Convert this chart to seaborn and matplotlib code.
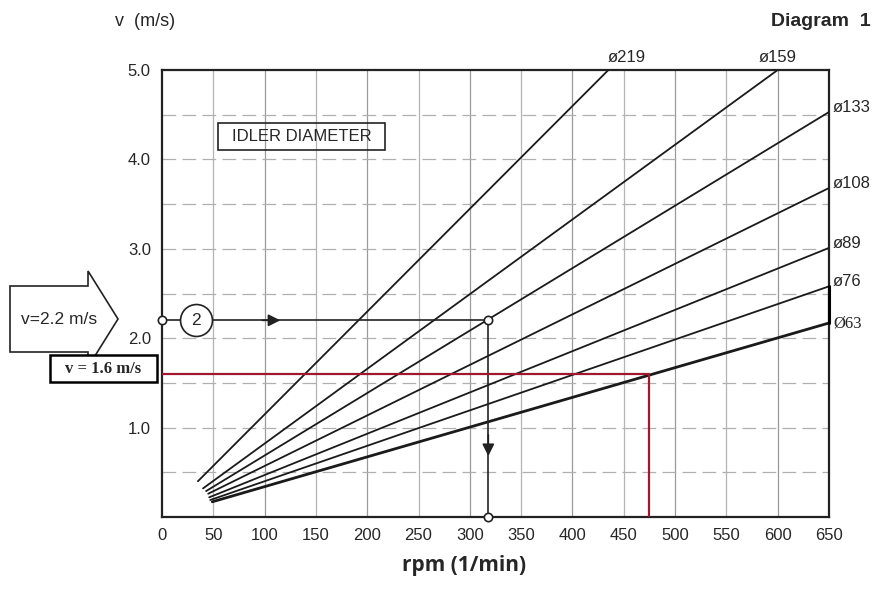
import numpy as np
import pandas as pd
import matplotlib
matplotlib.use('Agg')
import matplotlib.pyplot as plt
from matplotlib.patches import Polygon, Rectangle
import seaborn as sns

# idler diameter lines: start and end points
diameters = ['ø219', 'ø159', 'ø133', 'ø108', 'ø89', 'ø76', 'Ø63']
rpm_start = [35, 40, 43, 45, 46, 47, 49]
v_start = [0.40, 0.32, 0.29, 0.26, 0.22, 0.19, 0.17]
rpm_end = [435, 600, 650, 650, 650, 650, 650]
v_end = [5.0, 5.0, 4.53, 3.68, 3.01, 2.58, 2.17]

# worked examples
example_v = 2.2
example_rpm = 318
red_v = 1.6
red_rpm = 475

x_ticks = list(range(0, 651, 50))
y_ticks = [1.0, 2.0, 3.0, 4.0, 5.0]

rows = []
for d, x0, y0, x1, y1 in zip(diameters, rpm_start, v_start, rpm_end, v_end):
    rows.append({'d': d, 'rpm': x0, 'v': y0})
    rows.append({'d': d, 'rpm': x1, 'v': y1})
df = pd.DataFrame(rows)

sns.set_style('white')
plt.rcParams['font.family'] = ['Liberation Sans', 'DejaVu Sans']

fig = plt.figure(figsize=(8.73, 5.89), dpi=100)
ax = fig.add_axes([162 / 873, 1 - 517 / 589, 667 / 873, 447 / 589])

# grid
for x in x_ticks[1:-1]:
    ax.axvline(x, color='#b4b4b4' if x % 100 else '#9a9a9a', lw=0.9, zorder=0)
for y in np.arange(0.5, 5.0, 0.5):
    ax.axhline(y, color='#b0b0b0', lw=0.9, ls=(0, (11, 5)), zorder=0)

# idler lines
for d in diameters:
    sub = df[df['d'] == d]
    sns.lineplot(data=sub, x='rpm', y='v', color='#1a1a1a',
                 lw=2.0 if d == 'Ø63' else 1.3, ax=ax, legend=False, zorder=3)
ax.plot([650, 650], [v_end[6], v_end[5]], color='black', lw=2.2, zorder=4, clip_on=False)

# diameter labels
lab_pos = {'ø219': (434, 5.06, 'left', 'bottom'), 'ø159': (600, 5.06, 'center', 'bottom')}
for d, x1, y1 in zip(diameters, rpm_end, v_end):
    if d in lab_pos:
        lx, ly, ha, va = lab_pos[d]
        ax.text(lx, ly, d, ha=ha, va=va, fontsize=12)
    elif d == 'Ø63':
        ax.text(x1 + 4, y1, d, ha='left', va='center', fontsize=12,
                family=['Liberation Serif'])
    else:
        ax.text(x1 + 4, y1 + 0.05, d, ha='left', va='center', fontsize=12)

# example 2.2 m/s
ax.plot([0, example_rpm], [example_v, example_v], color='#222222', lw=1.2, zorder=5, clip_on=False)
ax.plot([example_rpm, example_rpm], [example_v, 0], color='#222222', lw=1.2, zorder=5, clip_on=False)
for px, py in [(0, example_v), (example_rpm, example_v), (example_rpm, 0)]:
    ax.plot(px, py, marker='o', ms=6, mfc='white', mec='#222222', mew=1.2, zorder=6, clip_on=False)
ax.annotate('', xy=(118, example_v), xytext=(95, example_v),
            arrowprops=dict(arrowstyle='-|>', color='#222222', lw=1.2, mutation_scale=18), zorder=6)
ax.annotate('', xy=(example_rpm, 0.65), xytext=(example_rpm, 0.95),
            arrowprops=dict(arrowstyle='-|>', color='#222222', lw=1.2, mutation_scale=18), zorder=6)
ax.plot(33, example_v, marker='o', ms=23, mfc='white', mec='#222222', mew=1.2, zorder=7)
ax.text(33, example_v, '2', ha='center', va='center', fontsize=12.5, zorder=8)

# red example 1.6 m/s
red = '#a01830'
ax.plot([0, red_rpm], [red_v, red_v], color=red, lw=1.6, zorder=5)
ax.plot([red_rpm, red_rpm], [red_v, 0], color=red, lw=1.6, zorder=5)

# idler diameter box
ax.add_patch(Rectangle((55, 4.11), 162, 0.3, fill=False, ec='#222222', lw=1.2, zorder=6))
ax.text(136, 4.26, 'IDLER DIAMETER', ha='center', va='center', fontsize=12)

ax.set_xlim(0, 650)
ax.set_ylim(0, 5)
ax.set_xticks(x_ticks)
ax.set_yticks(y_ticks)
ax.set_yticklabels([f'{y:.1f}' for y in y_ticks])
ax.tick_params(length=0, labelsize=12, pad=8)
for s in ax.spines.values():
    s.set_visible(True)
    s.set_color('#222222')
    s.set_linewidth(1.6)
ax.set_xlabel('')
ax.set_ylabel('')

# figure-level texts and left side callouts
fig.text(145 / 873, 1 - 22 / 589, 'v  (m/s)', ha='center', va='center', fontsize=13)
fig.text(871 / 873, 1 - 21 / 589, 'Diagram  1', ha='right', va='center', fontsize=14, weight='bold')
fig.text(464 / 873, 1 - 566 / 589, 'rpm (1/min)', ha='center', va='center', fontsize=15,
         weight='bold', family=['Open Sans', 'DejaVu Sans'])

arrow_px = [(10, 286), (88, 286), (88, 271), (118, 319), (88, 367), (88, 352), (10, 352)]
arrow = [(x / 873, 1 - y / 589) for x, y in arrow_px]
fig.patches.append(Polygon(arrow, closed=True, fill=True, fc='white', ec='#222222', lw=1.2,
                           transform=fig.transFigure, figure=fig))
fig.text(59 / 873, 1 - 319 / 589, 'v=2.2 m/s', ha='center', va='center', fontsize=12.5)

fig.patches.append(Rectangle((50 / 873, 1 - 382 / 589), 107 / 873, 27 / 589, fill=True, fc='white',
                             ec='black', lw=1.8, transform=fig.transFigure, figure=fig))
fig.text(103 / 873, 1 - 369 / 589, 'v = 1.6 m/s', ha='center', va='center', fontsize=12,
         weight='bold', family=['Liberation Serif'])

fig.savefig('out.png', dpi=100, facecolor='white')
